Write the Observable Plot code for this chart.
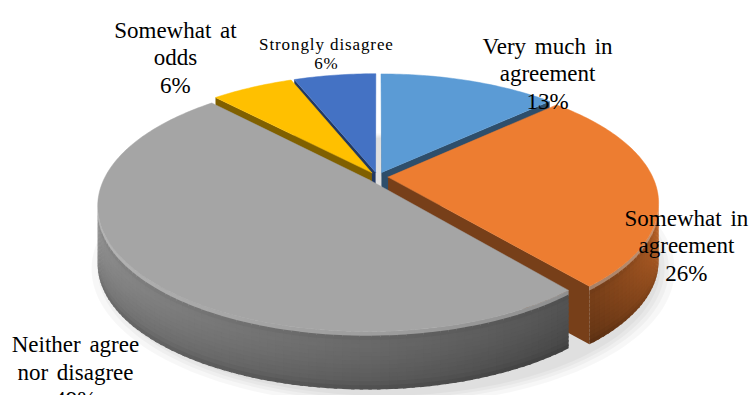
<!DOCTYPE html>
<html>
<head>
<meta charset="utf-8">
<script src="https://cdn.jsdelivr.net/npm/d3@7"></script>
<script src="https://cdn.jsdelivr.net/npm/@observablehq/plot@0.6"></script>
<style>
  html, body { margin: 0; padding: 0; background: #fff; }
  #chart svg { display: block; }
</style>
</head>
<body>
<div id="chart"></div>
<script>
// ---- data ----
const categories = ["Very much in agreement", "Somewhat in agreement", "Neither agree nor disagree", "Somewhat at odds", "Strongly disagree"];
const values = [13, 26, 49, 6, 6];
const labelLines = [["Very much in", "agreement"], ["Somewhat in", "agreement"], ["Neither agree", "nor disagree"], ["Somewhat at", "odds"], ["Strongly disagree"]];
const colors = ["#5B9BD5", "#ED7D31", "#A5A5A5", "#FFC000", "#4472C4"];

// ---- layout (pie units: x right, y up; projected 3D tilt) ----
const K = 0.2;          // perspective strength
const EXPLODE = 0.04;   // slice explosion
const DEPTH = 0.484;    // pie thickness (in y units)
const DEG = Math.PI / 180;
const labelPos = [[0.643, 1.190], [1.168, -0.245], [-1.142, -1.300], [-0.764, 1.324], [-0.193, 1.172]];
const labelSize = [23, 23, 23, 23, 17];

const total = d3.sum(values);
let acc = 0;
const slices = values.map((v, i) => {
  const a0 = acc / total * 2 * Math.PI; acc += v;
  const a1 = acc / total * 2 * Math.PI;
  const m = (a0 + a1) / 2;
  return {i, a0, a1, ox: EXPLODE * Math.sin(m), oz: EXPLODE * Math.cos(m), color: colors[i]};
});
const P = (X, Z, h = 0) => { const d = 1 + K * Z; return [X / d, Z / d - h]; };
const shade = (c, f) => { const r = d3.rgb(c); return d3.rgb(Math.min(255, r.r * f), Math.min(255, r.g * f), Math.min(255, r.b * f)).formatHex(); };
const rimLight = d3.scaleLinear().domain([100, 140, 180, 260]).range([0.84, 0.50, 0.64, 0.90]).clamp(true);
// vertical profile of the rim (t = 0 top edge .. 1 bottom edge)
const rimProfile = d3.scaleLinear().domain([0, 0.04, 0.1, 0.2, 0.5, 0.85, 1]).range([1.25, 1.12, 0.95, 1.0, 0.95, 0.86, 0.74]);

const walls = [];   // {pts, fill, depth}
const tops = [];
const lo = Math.acos(-K), hi = 2 * Math.PI - lo;
const NB = 14;
for (const s of slices) {
  const {ox, oz, a0, a1, color} = s;
  // top face
  const tp = [[ox, oz, 0]];
  const n = Math.max(2, Math.ceil((a1 - a0) / DEG));
  for (let j = 0; j <= n; j++) { const a = a0 + (a1 - a0) * j / n; tp.push([ox + Math.sin(a), oz + Math.cos(a), 0]); }
  tops.push({pts: tp, fill: color});
  // radial walls
  for (const [a, sgn] of [[a0, -1], [a1, 1]]) {
    const nx = sgn * Math.cos(a), nz = -sgn * Math.sin(a);
    const mx = ox + 0.5 * Math.sin(a), mz = oz + 0.5 * Math.cos(a);
    const vis = nx * (0 - mx) + nz * (-1 / K - mz) > 0;
    if (!vis) continue;
    const ex = ox + Math.sin(a), ez = oz + Math.cos(a);
    walls.push({pts: [[ox, oz, 0], [ex, ez, 0], [ex, ez, DEPTH], [ox, oz, DEPTH]], fill: shade(color, 0.5), depth: mz});
  }
  // outer rim, built from small overlapping patches
  const st = Math.max(a0, lo), en = Math.min(a1, hi);
  if (st < en) {
    const m = Math.ceil((en - st) / (1.5 * DEG));
    for (let j = 0; j < m; j++) {
      const p0 = st + (en - st) * j / m;
      const p1 = Math.min(en, st + (en - st) * (j + 1) / m + 0.6 * DEG);
      const f = rimLight(((p0 + p1) / 2) / DEG);
      for (let b = 0; b < NB; b++) {
        const t0 = b / NB, t1 = Math.min(1, (b + 1.35) / NB);
        const tm = (b + 0.5) / NB;
        let fill;
        const pr = rimProfile(tm);
        if (pr > 1.05) fill = d3.interpolateRgb(shade(color, f), "#ffffff")(0.35);
        else fill = shade(color, f * pr);
        walls.push({
          pts: [[ox + Math.sin(p0), oz + Math.cos(p0), t0 * DEPTH], [ox + Math.sin(p1), oz + Math.cos(p1), t0 * DEPTH],
                [ox + Math.sin(p1), oz + Math.cos(p1), t1 * DEPTH], [ox + Math.sin(p0), oz + Math.cos(p0), t1 * DEPTH]],
          fill, depth: oz + Math.cos((p0 + p1) / 2) - b * 1e-6
        });
      }
    }
  }
}
walls.sort((a, b) => b.depth - a.depth);

// soft shadow
const shadow = [];
[1.07, 1.05, 1.035, 1.02].forEach((r) => {
  const pts = [];
  for (let j = 0; j <= 180; j++) { const a = j * 2 * DEG; pts.push([0.02 + r * Math.sin(a), -0.03 + r * Math.cos(a), DEPTH + 0.015]); }
  shadow.push({pts});
});

let id = 0;
const toRows = (list) => { const out = []; for (const p of list) { const pid = id++; const pts = [...p.pts, p.pts[0]]; for (const [X, Z, h] of pts) { const [x, y] = P(X, Z, h); out.push({id: pid, x, y, fill: p.fill || "#000"}); } } return out; };
const shadowRows = toRows(shadow);
const wallRows = toRows(walls);
const topRows = toRows(tops);

const labelData = slices.map((s, i) => ({
  x: labelPos[i][0], y: labelPos[i][1],
  text: [...labelLines[i], `${values[i]}%`].join("\n"),
  size: labelSize[i]
}));

const plot = Plot.plot({
  width: 751, height: 395, margin: 0,
  x: {domain: [-1.4253, 1.4140], axis: null},
  y: {domain: [-1.8255, 1.4716], axis: null},
  color: {type: "identity"},
  marks: [
    Plot.line(shadowRows, {x: "x", y: "y", z: "id", fill: "#000", fillOpacity: 0.03, stroke: "none"}),
    Plot.line(wallRows, {x: "x", y: "y", z: "id", fill: "fill", stroke: "none", curve: "linear"}),
    Plot.line(topRows, {x: "x", y: "y", z: "id", fill: "fill", stroke: "fill", strokeWidth: 0.5, curve: "linear"}),
    Plot.text(labelData.filter(d => d.size > 20), {x: "x", y: "y", text: "text", fontSize: 23, lineHeight: 1.2, lineAnchor: "top", textAnchor: "middle", fill: "#000", fontFamily: "Liberation Serif"}),
    Plot.text(labelData.filter(d => d.size <= 20), {x: "x", y: "y", text: "text", fontSize: 17, lineHeight: 1.12, lineAnchor: "top", textAnchor: "middle", fill: "#000", fontFamily: "Liberation Serif"})
  ]
});
const tg = plot.querySelectorAll('g[aria-label="text"]');
if (tg.length > 1) tg[1].setAttribute("letter-spacing", "0.9");
if (tg.length > 0) tg[0].setAttribute("word-spacing", "3");
document.getElementById("chart").appendChild(plot);
</script>
</body>
</html>
